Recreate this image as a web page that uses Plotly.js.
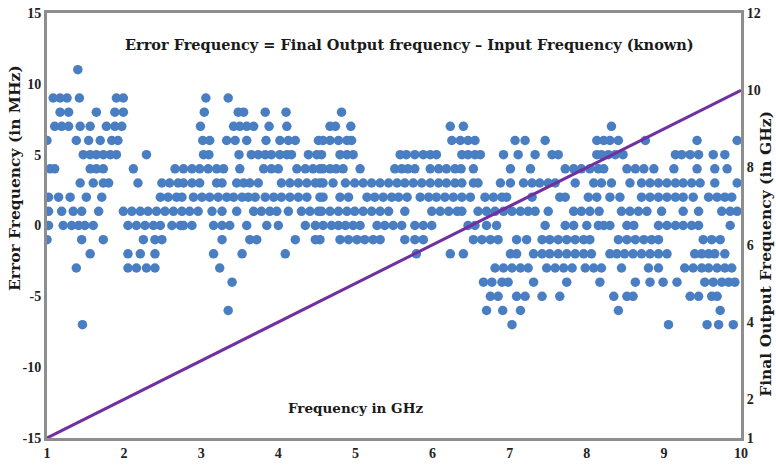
<!DOCTYPE html>
<html>
<head>
<meta charset="utf-8">
<script src="https://cdn.plot.ly/plotly-3.0.1.min.js"></script>
<style>
  html, body { margin: 0; padding: 0; background: #ffffff; }
  #chart { width: 776px; height: 467px; }
</style>
</head>
<body>
<div id="chart"></div>
<script>
// Input frequencies (GHz) at which each error level (MHz) was observed
const errLevels = [11, 9, 8, 7, 6, 5, 4, 3, 2, 1, 0, -1, -2, -3, -4, -5, -6, -7];

const inputAtErr11 = [1.40];
const inputAtErr9 = [1.08, 1.17, 1.26, 1.42, 1.90, 1.99, 3.06, 3.35];
const inputAtErr8 = [1.17, 1.28, 1.64, 1.88, 1.99, 3.04, 3.48, 3.55, 3.83, 4.10, 4.82];
const inputAtErr7 = [1.10, 1.19, 1.28, 1.43, 1.56, 1.77, 1.88, 1.97, 2.99, 3.42, 3.50, 3.59, 3.68, 3.88, 4.11,
  4.67, 4.74, 4.94, 6.23, 6.40, 8.32];
const inputAtErr6 = [1.00, 1.38, 1.54, 1.69, 1.84, 1.92, 3.02, 3.11, 3.33, 3.44, 3.59, 3.84, 4.02, 4.13, 4.22,
  4.52, 4.58, 4.67, 4.78, 4.89, 4.95, 6.25, 6.36, 6.46, 6.55, 7.07, 7.20, 7.46, 8.13, 8.22, 8.30, 8.41, 8.76,
  9.43, 9.95];
const inputAtErr5 = [1.47, 1.56, 1.64, 1.73, 1.82, 1.90, 2.29, 3.03, 3.10, 3.49, 3.65, 3.74, 3.83, 3.91, 4.02,
  4.11, 4.17, 4.39, 4.50, 4.56, 4.80, 4.89, 4.97, 5.58, 5.66, 5.77, 5.88, 5.97, 6.05, 6.38, 6.46, 6.55, 6.62,
  6.92, 7.11, 7.33, 7.55, 7.63, 8.13, 8.19, 8.28, 8.37, 8.47, 9.15, 9.23, 9.34, 9.45, 9.64, 9.79];
const inputAtErr4 = [1.04, 1.10, 1.56, 1.64, 1.73, 2.12, 2.66, 2.77, 2.88, 2.98, 3.09, 3.20, 3.29, 3.50, 3.81,
  3.91, 4.00, 4.24, 4.35, 4.45, 4.54, 4.58, 4.67, 4.75, 4.84, 5.06, 5.51, 5.60, 5.68, 5.77, 5.97, 6.08, 6.18,
  6.29, 6.37, 6.53, 7.01, 7.27, 7.72, 7.83, 7.93, 8.04, 8.15, 8.22, 8.52, 8.63, 8.74, 8.87, 9.13, 9.43, 9.66,
  9.82];
const inputAtErr3 = [1.43, 1.60, 1.73, 1.80, 2.18, 2.49, 2.59, 2.70, 2.77, 2.88, 2.98, 3.20, 3.27, 3.46, 3.55,
  3.63, 3.74, 4.04, 4.15, 4.26, 4.37, 4.48, 4.54, 4.58, 4.71, 4.87, 4.99, 5.10, 5.21, 5.32, 5.43, 5.54, 5.64,
  5.75, 5.86, 5.97, 6.08, 6.18, 6.29, 6.38, 6.53, 6.59, 6.88, 7.01, 7.18, 7.29, 7.39, 7.50, 7.59, 7.85, 8.09,
  8.19, 8.32, 8.56, 8.71, 8.82, 8.93, 9.04, 9.15, 9.25, 9.36, 9.47, 9.66, 9.95];
const inputAtErr2 = [1.02, 1.15, 1.30, 1.51, 1.71, 2.47, 2.57, 2.68, 2.75, 2.90, 3.01, 3.11, 3.22, 3.33, 3.42,
  3.53, 3.61, 3.70, 3.83, 3.94, 4.04, 4.15, 4.26, 4.37, 4.54, 4.58, 4.80, 4.91, 5.15, 5.25, 5.36, 5.47, 5.56,
  5.67, 5.84, 5.95, 6.05, 6.16, 6.27, 6.38, 6.49, 6.68, 6.79, 6.90, 6.96, 7.29, 7.65, 7.72, 8.02, 8.13, 8.30,
  8.43, 8.71, 8.82, 8.93, 9.04, 9.15, 9.25, 9.38, 9.58, 9.69, 9.79, 9.88];
const inputAtErr1 = [1.02, 1.19, 1.34, 1.45, 1.67, 1.99, 2.10, 2.21, 2.31, 2.42, 2.53, 2.64, 2.75, 2.85, 2.96,
  3.14, 3.27, 3.46, 3.68, 3.78, 3.89, 3.98, 4.13, 4.30, 4.41, 4.52, 4.56, 4.67, 4.78, 4.89, 4.99, 5.10, 5.21,
  5.32, 5.43, 5.64, 5.99, 6.10, 6.21, 6.32, 6.38, 6.59, 6.70, 6.81, 6.92, 7.03, 7.14, 7.24, 7.33, 7.50, 7.83,
  7.93, 8.04, 8.16, 8.45, 8.56, 8.67, 8.78, 8.97, 9.25, 9.45, 9.75, 9.86, 9.95];
const inputAtErr0 = [1.02, 1.21, 1.32, 1.41, 1.49, 1.60, 2.05, 2.16, 2.27, 2.38, 2.47, 2.62, 2.73, 2.77, 2.88,
  3.16, 3.27, 3.37, 3.59, 3.85, 4.00, 4.35, 4.48, 4.58, 4.69, 4.78, 4.87, 4.97, 5.06, 5.28, 5.38, 5.49, 5.60,
  5.77, 5.88, 5.99, 6.46, 6.55, 6.70, 6.83, 7.46, 7.72, 7.83, 8.00, 8.15, 8.22, 8.30, 8.52, 8.61, 8.93, 9.04,
  9.15, 9.25, 9.36, 9.45, 9.86];
const inputAtErrM1 = [1.00, 1.45, 1.73, 2.25, 2.40, 2.49, 3.27, 3.63, 3.72, 4.22, 4.48, 4.54, 4.80, 4.91, 5.02,
  5.12, 5.23, 5.32, 5.64, 5.77, 5.88, 6.53, 6.64, 6.75, 6.85, 7.09, 7.22, 7.42, 7.52, 7.63, 7.74, 7.85, 7.96,
  8.04, 8.41, 8.52, 8.63, 8.74, 8.84, 8.93, 9.51, 9.62, 9.73];
const inputAtErrM2 = [1.56, 2.05, 2.21, 2.40, 3.16, 3.53, 4.09, 5.79, 6.23, 6.40, 7.01, 7.09, 7.31, 7.42, 7.52,
  7.63, 7.74, 7.85, 7.96, 8.06, 8.30, 8.39, 8.49, 8.60, 8.71, 8.82, 8.93, 9.04, 9.40, 9.49, 9.58, 9.66, 9.79];
const inputAtErrM3 = [1.38, 2.05, 2.16, 2.29, 2.40, 3.24, 6.81, 6.92, 7.03, 7.14, 7.24, 7.48, 7.59, 7.70, 7.81,
  7.98, 8.09, 8.19, 8.45, 8.80, 8.93, 9.27, 9.38, 9.49, 9.58, 9.69, 9.79, 9.88];
const inputAtErrM4 = [3.40, 6.66, 6.77, 6.90, 6.98, 7.31, 7.74, 8.17, 8.63, 8.82, 8.99, 9.17, 9.53, 9.64, 9.75,
  9.84, 9.92];
const inputAtErrM5 = [6.75, 6.85, 7.09, 7.20, 7.42, 7.65, 8.35, 8.52, 8.60, 9.34, 9.45, 9.62, 9.69];
const inputAtErrM6 = [3.35, 6.70, 6.91, 7.14, 8.41, 9.73];
const inputAtErrM7 = [1.46, 7.03, 9.06, 9.56, 9.71, 9.90];

const inputsByLevel = [inputAtErr11, inputAtErr9, inputAtErr8, inputAtErr7, inputAtErr6, inputAtErr5,
  inputAtErr4, inputAtErr3, inputAtErr2, inputAtErr1, inputAtErr0, inputAtErrM1, inputAtErrM2, inputAtErrM3,
  inputAtErrM4, inputAtErrM5, inputAtErrM6, inputAtErrM7];

// Final output frequency (GHz) against input frequency (GHz)
const inputGHz = [1, 2, 3, 4, 5, 6, 7, 8, 9, 10];
const outputGHz = [1, 2, 3, 4, 5, 6, 7, 8, 9, 10];

const xTicks = [1, 2, 3, 4, 5, 6, 7, 8, 9, 10];
const yTicks = [-15, -10, -5, 0, 5, 10, 15];
const y2Ticks = [1, 2, 4, 6, 8, 10, 12];

const errX = [];
const errY = [];
errLevels.forEach((lvl, i) => {
  inputsByLevel[i].forEach(x => { errX.push(x); errY.push(lvl); });
});

const serif = 'Liberation Serif, Times New Roman, serif';
const wideSerif = 'DejaVu Serif, Liberation Serif, serif';
const axisGray = '#8e8e8e';

const traces = [
  {
    type: 'scatter', mode: 'markers', name: 'Error Frequency',
    x: errX, y: errY, yaxis: 'y',
    marker: { color: '#4a7ec2', size: 9.5, line: { width: 0 } }
  },
  {
    type: 'scatter', mode: 'lines', name: 'Final Output Frequency',
    x: inputGHz, y: outputGHz, yaxis: 'y2',
    line: { color: '#7030a0', width: 3 }
  }
];

const tickFont = { family: serif, size: 14, color: '#222222', weight: 700 };
const labelFont = { family: wideSerif, size: 15.5, color: '#1a1a1a', weight: 700 };

const layout = {
  width: 776, height: 467,
  margin: { l: 47, r: 35, t: 13, b: 29 },
  paper_bgcolor: '#ffffff', plot_bgcolor: '#ffffff',
  showlegend: false,
  xaxis: {
    range: [1, 10], tickvals: xTicks, ticktext: xTicks.map(String),
    showgrid: false, zeroline: false,
    showline: true, linecolor: axisGray, linewidth: 3, mirror: true,
    ticks: '', tickfont: tickFont
  },
  yaxis: {
    range: [-15, 15], tickvals: yTicks, ticktext: yTicks.map(String),
    showgrid: false, zeroline: false,
    showline: true, linecolor: axisGray, linewidth: 3,
    ticks: '', tickfont: tickFont
  },
  yaxis2: {
    range: [1, 12], overlaying: 'y', side: 'right',
    tickvals: y2Ticks, ticktext: y2Ticks.map(String),
    showgrid: false, zeroline: false,
    showline: true, linecolor: axisGray, linewidth: 3,
    ticks: '', tickfont: tickFont
  },
  annotations: [
    {
      text: 'Error Frequency = Final Output frequency \u2013 Input Frequency (known)',
      xref: 'paper', yref: 'paper', x: 0.523, y: 0.925,
      xanchor: 'center', yanchor: 'middle', showarrow: false,
      font: { family: wideSerif, size: 14.5, color: '#1a1a1a', weight: 700 }
    },
    {
      text: 'Frequency in GHz',
      xref: 'paper', yref: 'paper', x: 0.444, y: 0.071,
      xanchor: 'center', yanchor: 'middle', showarrow: false,
      font: { family: wideSerif, size: 13.5, color: '#1a1a1a', weight: 700 }
    },
    {
      text: 'Error Frequency (in MHz)',
      xref: 'paper', yref: 'paper', x: -0.046, y: 0.612,
      xanchor: 'center', yanchor: 'middle', showarrow: false, textangle: -90,
      font: labelFont
    },
    {
      text: 'Final Output Frequency (in GHz)',
      xref: 'paper', yref: 'paper', x: 1.035, y: 0.434,
      xanchor: 'center', yanchor: 'middle', showarrow: false, textangle: -90,
      font: labelFont
    }
  ]
};

Plotly.newPlot('chart', traces, layout, { displayModeBar: false, staticPlot: true });
</script>
</body>
</html>
